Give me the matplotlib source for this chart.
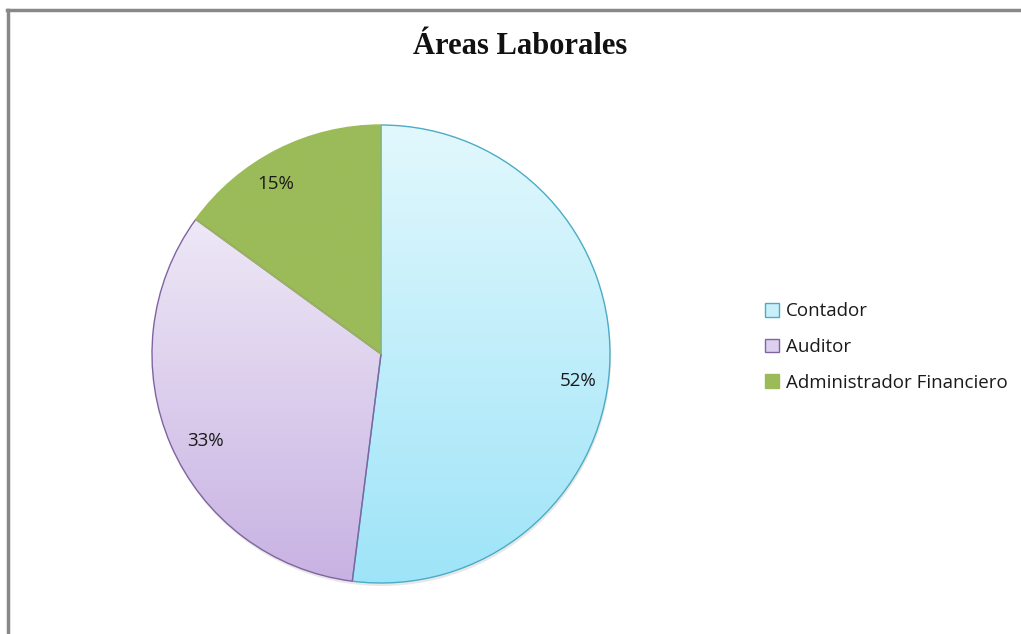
import numpy as np
import matplotlib
matplotlib.use("Agg")
import matplotlib.pyplot as plt
from matplotlib.colors import LinearSegmentedColormap
from matplotlib.lines import Line2D
from matplotlib.patches import Patch, Circle

labels = ["Contador", "Auditor", "Administrador Financiero"]
values = [52, 33, 15]
tops = ["#e2f8fd", "#eee8f6", "#9bbb59"]
bottoms = ["#9ee4f8", "#c8b2e3", "#9bbb59"]
edges = ["#4bacc6", "#8064a2", "#9bbb59"]
swatch_face = ["#c9f0fa", "#ddd0ee", "#9bbb59"]

W, H = 1021, 634
fig = plt.figure(figsize=(W / 100, H / 100), dpi=100)
ax = fig.add_axes([0, 0, 1, 1])
ax.set_xlim(0, W)
ax.set_ylim(0, H)
ax.axis("off")

cx, cy, r = 381, H - 354, 229

# faint shadow under the pie
ax.add_patch(Circle((cx + 1, cy - 3), r, facecolor="#bbbbbb", edgecolor="none",
                    alpha=0.35, zorder=0.5))

wedges, texts = ax.pie(values, startangle=90, counterclock=False,
                       center=(cx, cy), radius=r, frame=True,
                       wedgeprops=dict(linewidth=1.0))[:2]

label_pos = [(578, 381), (205, 441), (276, 184)]
for w, t, b, e, v, (lx, ly) in zip(wedges, tops, bottoms, edges, values, label_pos):
    verts = w.get_path().vertices
    x0, x1 = verts[:, 0].min(), verts[:, 0].max()
    y0, y1 = verts[:, 1].min(), verts[:, 1].max()
    cmap = LinearSegmentedColormap.from_list("g", [b, t])
    grad = np.linspace(0, 1, 256).reshape(-1, 1)
    im = ax.imshow(grad, extent=[x0, x1, y0, y1], origin="lower",
                   cmap=cmap, aspect="auto", zorder=1)
    im.set_clip_path(w)
    w.set_facecolor("none")
    w.set_edgecolor(e)
    w.set_zorder(2)
    ax.text(lx, H - ly, f"{v}%", ha="center", va="center",
            fontsize=13.5, family="Open Sans", color="#1a1a1a", zorder=3)

ax.set_xlim(0, W)
ax.set_ylim(0, H)
ax.set_aspect("auto")

ax.text(520, H - 47, "Áreas Laborales", ha="center", va="center",
        fontsize=22, fontweight="bold", family="Liberation Serif", color="#111111")

handles = [Patch(facecolor=f, edgecolor=e, linewidth=1.0) for f, e in zip(swatch_face, edges)]
leg = ax.legend(handles, labels, loc="center left", bbox_to_anchor=(757 / W, 1 - 347 / H),
                frameon=False, prop=dict(family="Open Sans", size=13.5),
                handlelength=0.75, handleheight=0.75, handletextpad=0.4,
                labelspacing=0.95, borderaxespad=0)
for t in leg.get_texts():
    t.set_color("#1a1a1a")

# chart border
fig.add_artist(Line2D([7 / W, 1], [1 - 10 / H, 1 - 10 / H], color="#888888", lw=2.5,
                      transform=fig.transFigure))
fig.add_artist(Line2D([8 / W, 8 / W], [1 - 10 / H, 0], color="#888888", lw=2.5,
                      transform=fig.transFigure))

fig.savefig("out.png", dpi=100, facecolor="white")
